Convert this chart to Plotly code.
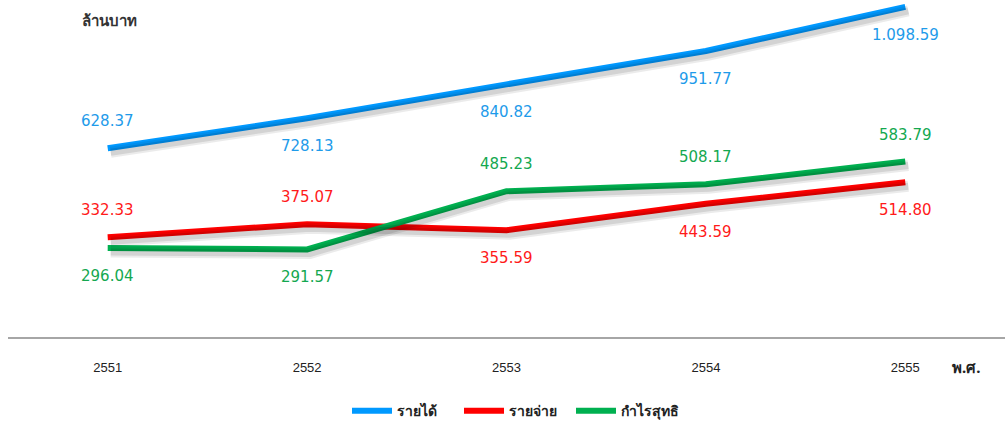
import plotly.graph_objects as go

years = ["2551", "2552", "2553", "2554", "2555"]
revenue = [628.37, 728.13, 840.82, 951.77, 1098.59]
expense = [332.33, 375.07, 355.59, 443.59, 514.80]
profit = [296.04, 291.57, 485.23, 508.17, 583.79]
revenue_labels = ["628.37", "728.13", "840.82", "951.77", "1.098.59"]
expense_labels = ["332.33", "375.07", "355.59", "443.59", "514.80"]
profit_labels = ["296.04", "291.57", "485.23", "508.17", "583.79"]
names = ["รายได้", "รายจ่าย", "กำไรสุทธิ"]

colors = ["#0099FF", "#FF0000", "#00B050"]
label_colors = ["#1E9BEA", "#FF1A1A", "#14A850"]
label_side = [
    ["up", "down", "down", "down", "down"],
    ["up", "up", "down", "down", "down"],
    ["down", "down", "up", "up", "up"],
]

W, H = 1005, 426
ml, mr, mt, mb = 8, 0, 2, 89
plot_w = W - ml - mr
plot_h = H - mt - mb
xr = [-0.5, 4.5]
yr = [0, 1115]
kx = (xr[1] - xr[0]) / plot_w
ky = (yr[1] - yr[0]) / plot_h
dx, dy = 3, 4  # shadow offset in px

xs = list(range(len(years)))
series = [revenue, expense, profit]
labels = [revenue_labels, expense_labels, profit_labels]

fig = go.Figure()
# soft shadows on a slightly shifted overlay axis
for s in series:
    fig.add_trace(go.Scatter(x=xs, y=s, mode="lines", xaxis="x2", yaxis="y2",
                             line=dict(color="rgba(0,0,0,0.08)", width=11),
                             showlegend=False, hoverinfo="skip"))
    fig.add_trace(go.Scatter(x=xs, y=s, mode="lines", xaxis="x2", yaxis="y2",
                             line=dict(color="rgba(0,0,0,0.10)", width=7),
                             showlegend=False, hoverinfo="skip"))
for s, n, c in zip(series, names, colors):
    fig.add_trace(go.Scatter(x=xs, y=s, mode="lines", name="<b>" + n + "</b>",
                             line=dict(color=c, width=6)))

ann = []
for s, lab, side, lc in zip(series, labels, label_side, label_colors):
    for i, (v, t, sd) in enumerate(zip(s, lab, side)):
        ann.append(dict(x=i, y=v, text=t, showarrow=False, xref="x", yref="y",
                        yshift=27 if sd == "up" else -28,
                        font=dict(family="DejaVu Sans", size=15, color=lc)))
ann.append(dict(x=0, y=1, xref="paper", yref="paper", xshift=72, yshift=-18,
                text="<b>ล้านบาท</b>", showarrow=False, xanchor="left",
                yanchor="middle",
                font=dict(family="Noto Sans", size=15, color="#333333")))
ann.append(dict(x=(950 - ml) / plot_w, y=-(367 - (H - mb)) / plot_h,
                xref="paper", yref="paper",
                text="<b>พ.ศ.</b>", showarrow=False, xanchor="left",
                yanchor="middle",
                font=dict(family="Noto Sans", size=15, color="#222222")))
fig.update_layout(annotations=ann)

fig.update_layout(
    width=W, height=H,
    margin=dict(l=ml, r=mr, t=mt, b=mb),
    paper_bgcolor="white", plot_bgcolor="white",
    xaxis=dict(range=xr, tickmode="array", tickvals=xs, ticktext=years,
               showgrid=False, zeroline=False, showline=True,
               linecolor="#A6A6A6", linewidth=2, ticks="",
               tickfont=dict(family="Liberation Sans Narrow, Liberation Sans", size=13, color="#222222"),
               ticklabelstandoff=17),
    yaxis=dict(range=yr, visible=False, showgrid=False, zeroline=False),
    xaxis2=dict(range=[xr[0] - dx * kx, xr[1] - dx * kx], overlaying="x",
                visible=False),
    yaxis2=dict(range=[yr[0] + dy * ky, yr[1] + dy * ky], overlaying="y",
                visible=False),
    legend=dict(orientation="h", x=(515 - ml) / plot_w, xanchor="center", y=0.035,
                yref="container", yanchor="middle",
                font=dict(family="Noto Sans", size=14, color="#222222"),
                itemwidth=40, entrywidth=57, entrywidthmode="pixels",
                traceorder="normal"),
    showlegend=True,
)
fig.write_html("out.html",
               config={"displayModeBar": False},
               post_script="document.body.style.margin='0';document.body.style.overflow='hidden';")
